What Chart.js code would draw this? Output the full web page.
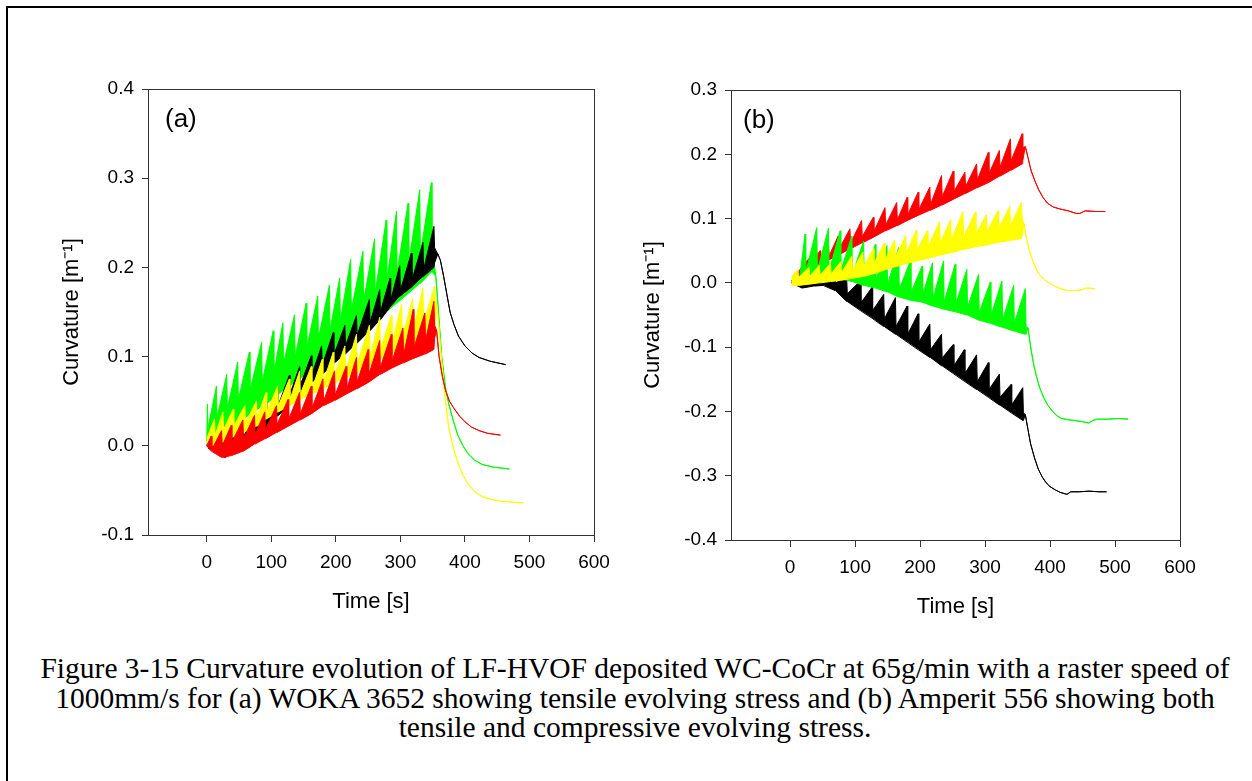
<!DOCTYPE html>
<html><head><meta charset="utf-8">
<script src="https://cdn.jsdelivr.net/npm/chart.js@4.4.1/dist/chart.umd.min.js"></script>
<style>
html,body{margin:0;padding:0;background:#fff;}
body{width:1252px;height:781px;position:relative;overflow:hidden;font-family:"Liberation Sans",Arial,sans-serif;}
#frame{position:absolute;left:6px;top:6px;right:-10px;bottom:-10px;border-top:2px solid #000;border-left:2px solid #000;}
canvas{position:absolute;top:0;}
#ca{left:0;} #cb{left:600px;}
.plabel{position:absolute;font-size:26px;line-height:26px;color:#000;}
#caption{position:absolute;left:0;width:1270px;top:654px;text-align:center;font-family:"Liberation Serif","Times New Roman",serif;font-size:29.5px;line-height:29.5px;color:#000;}
</style></head>
<body>
<div id="frame"></div>
<canvas id="ca" width="626" height="640"></canvas>
<canvas id="cb" width="626" height="640"></canvas>
<div class="plabel" style="left:165px;top:105px;">(a)</div>
<div class="plabel" style="left:743px;top:106px;">(b)</div>
<div id="caption">
<div>Figure 3-15 Curvature evolution of LF-HVOF deposited WC-CoCr at 65g/min with a raster speed of</div>
<div>1000mm/s for (a) WOKA 3652 showing tensile evolving stress and (b) Amperit 556 showing both</div>
<div>tensile and compressive evolving stress.</div>
</div>
<script>
// ---------- axis ticks ----------
const xTicks = [0, 100, 200, 300, 400, 500, 600];
const yTicksA = [-0.1, 0.0, 0.1, 0.2, 0.3, 0.4];
const yTicksB = [-0.4, -0.3, -0.2, -0.1, 0.0, 0.1, 0.2, 0.3];
const xLabel = 'Time [s]';
const yLabel = 'Curvature [m\u207B\u00B9]';

// ---------- panel (a): oscillating part (time, upper edge, lower edge) ----------
const aGreenT  = [0, 1,2, 15,16, 31,32, 48,49, 66,67, 85,86, 103,104, 118,119, 136,137, 154,155, 172,173, 190,191, 206,207, 223,224, 242,243, 260,261, 278,279, 294,295, 312,313, 330,331, 348,349];
const aGreenHi = [0.005, 0.047,0.020, 0.067,0.032, 0.080,0.042, 0.094,0.052, 0.105,0.062, 0.116,0.072, 0.129,0.082, 0.138,0.092, 0.147,0.100, 0.160,0.110, 0.168,0.120, 0.180,0.130, 0.188,0.140, 0.209,0.152, 0.218,0.162, 0.232,0.172, 0.253,0.185, 0.263,0.195, 0.272,0.205, 0.287,0.215, 0.295,0.225];
const aGreenLo = [0.004, 0.004,0.004, 0.010,0.010, 0.018,0.018, 0.026,0.026, 0.035,0.035, 0.044,0.044, 0.053,0.053, 0.062,0.062, 0.071,0.071, 0.081,0.081, 0.090,0.090, 0.100,0.100, 0.109,0.109, 0.118,0.118, 0.128,0.128, 0.139,0.139, 0.150,0.150, 0.160,0.160, 0.171,0.171, 0.182,0.182, 0.195,0.195];
const aGreenTailT = [355, 359, 364, 370, 375, 382, 389, 397, 405, 415, 427, 445, 469];
const aGreenTailV = [0.190, 0.150, 0.100, 0.065, 0.047, 0.028, 0.012, 0.000, -0.009, -0.016, -0.021, -0.024, -0.026];

const aBlackT  = [0, 2,3, 15,16, 28,29, 41,42, 56,57, 74,75, 92,93, 110,111, 128,129, 144,145, 162,163, 178,179, 196,197, 214,215, 232,233, 252,253, 268,269, 284,285, 299,300, 317,318, 335,336, 352,353];
const aBlackHi = [0.000, 0.005,-0.002, 0.012,0.000, 0.010,-0.004, 0.016,0.002, 0.024,0.010, 0.036,0.020, 0.050,0.032, 0.066,0.046, 0.079,0.058, 0.089,0.068, 0.101,0.080, 0.112,0.090, 0.127,0.102, 0.135,0.112, 0.146,0.124, 0.164,0.138, 0.175,0.150, 0.188,0.163, 0.202,0.174, 0.216,0.186, 0.228,0.198, 0.246,0.222];
const aBlackLo = [0.000, 0.000,-0.003, -0.007,-0.007, -0.013,-0.013, -0.007,-0.007, -0.003,-0.003, 0.006,0.006, 0.019,0.019, 0.034,0.034, 0.046,0.046, 0.060,0.060, 0.071,0.071, 0.080,0.080, 0.092,0.092, 0.103,0.103, 0.115,0.115, 0.129,0.129, 0.141,0.141, 0.156,0.156, 0.168,0.168, 0.178,0.178, 0.190,0.190, 0.200,0.205];
const aBlackTailT = [358, 362, 367, 372, 377, 383, 390, 400, 411, 422, 438, 463];
const aBlackTailV = [0.215, 0.208, 0.190, 0.170, 0.150, 0.136, 0.123, 0.112, 0.104, 0.099, 0.095, 0.091];

const aYellowT  = [0, 12,13, 25,26, 41,42, 59,60, 77,78, 92,93, 110,111, 128,129, 144,145, 162,163, 179,180, 196,197, 214,215, 232,233, 252,253, 268,269, 286,287, 302,303, 319,320, 335,336, 353,354];
const aYellowHi = [0.008, 0.030,0.012, 0.038,0.018, 0.041,0.022, 0.045,0.026, 0.050,0.032, 0.060,0.038, 0.067,0.045, 0.075,0.052, 0.084,0.058, 0.089,0.064, 0.097,0.070, 0.105,0.077, 0.112,0.083, 0.125,0.092, 0.135,0.100, 0.144,0.108, 0.146,0.114, 0.159,0.122, 0.165,0.130, 0.177,0.138, 0.179,0.165];
const aYellowLo = [0.000, 0.000,0.000, 0.004,0.004, 0.010,0.010, 0.016,0.016, 0.022,0.022, 0.030,0.030, 0.038,0.038, 0.045,0.045, 0.052,0.052, 0.058,0.058, 0.064,0.064, 0.070,0.070, 0.076,0.076, 0.082,0.082, 0.090,0.090, 0.097,0.097, 0.103,0.103, 0.109,0.109, 0.114,0.114, 0.120,0.120, 0.125,0.128];
const aYellowTailT = [356, 359, 362, 366, 370, 375, 382, 389, 397, 405, 416, 427, 440, 455, 470, 490];
const aYellowTailV = [0.160, 0.140, 0.110, 0.080, 0.050, 0.020, -0.002, -0.019, -0.033, -0.043, -0.052, -0.057, -0.060, -0.062, -0.063, -0.064];

const aRedT  = [0, 7,8, 23,24, 38,39, 56,57, 74,75, 90,91, 108,109, 126,127, 144,145, 162,163, 180,181, 198,199, 216,217, 232,233, 250,251, 268,269, 286,287, 304,305, 320,321, 338,339, 352,353];
const aRedHi = [0.000, 0.011,-0.004, 0.017,0.000, 0.023,0.004, 0.029,0.008, 0.034,0.013, 0.038,0.018, 0.045,0.024, 0.052,0.030, 0.060,0.036, 0.067,0.042, 0.075,0.050, 0.084,0.057, 0.089,0.064, 0.099,0.072, 0.108,0.080, 0.118,0.088, 0.125,0.095, 0.132,0.102, 0.153,0.110, 0.149,0.118, 0.162,0.135];
const aRedLo = [0.000, -0.006,-0.006, -0.013,-0.013, -0.011,-0.011, -0.006,-0.006, 0.002,0.002, 0.008,0.008, 0.015,0.015, 0.022,0.022, 0.029,0.029, 0.036,0.036, 0.045,0.045, 0.051,0.051, 0.058,0.058, 0.064,0.064, 0.071,0.071, 0.080,0.080, 0.087,0.087, 0.093,0.093, 0.098,0.098, 0.103,0.103, 0.108,0.120];
const aRedTailT = [356, 360, 365, 370, 376, 383, 392, 400, 410, 422, 435, 455];
const aRedTailV = [0.130, 0.100, 0.078, 0.062, 0.050, 0.042, 0.033, 0.027, 0.021, 0.017, 0.014, 0.012];

// ---------- panel (b) ----------
const bRedT  = [5, 18, 31,32, 46,47, 59,60, 74,75, 92,93, 110,111, 128,129, 146,147, 164,165, 180,181, 197,198, 215,216, 233,234, 251,252, 269,270, 287,288, 305,306, 322,323, 339,340, 357,358];
const bRedHi = [0.005, 0.025, 0.040,0.030, 0.050,0.036, 0.058,0.042, 0.073,0.052, 0.084,0.062, 0.097,0.072, 0.102,0.080, 0.117,0.090, 0.125,0.098, 0.133,0.106, 0.141,0.114, 0.149,0.122, 0.167,0.134, 0.174,0.142, 0.172,0.150, 0.185,0.160, 0.203,0.170, 0.206,0.180, 0.224,0.190, 0.232,0.210];
const bRedLo = [0.000, 0.015, 0.024,0.024, 0.030,0.030, 0.036,0.036, 0.043,0.043, 0.053,0.053, 0.062,0.062, 0.071,0.071, 0.081,0.081, 0.089,0.089, 0.097,0.097, 0.105,0.105, 0.113,0.113, 0.121,0.121, 0.130,0.130, 0.139,0.139, 0.148,0.148, 0.156,0.156, 0.166,0.166, 0.175,0.175, 0.185,0.190];
const bRedTailT = [362, 366, 371, 377, 382, 389, 396, 405, 415, 428, 440, 446, 454, 470, 485];
const bRedTailV = [0.212, 0.195, 0.174, 0.158, 0.146, 0.133, 0.124, 0.118, 0.115, 0.112, 0.108, 0.108, 0.112, 0.111, 0.111];

const bYellowT  = [2, 12,13, 29,30, 45,46, 62,63, 78,79, 95,96, 112,113, 128,129, 145,146, 161,162, 178,179, 194,195, 211,212, 230,231, 247,248, 266,267, 285,286, 302,303, 320,321, 338,339, 356,357];
const bYellowHi = [0.010, 0.020,0.008, 0.024,0.010, 0.027,0.012, 0.030,0.014, 0.033,0.016, 0.042,0.020, 0.048,0.025, 0.053,0.030, 0.062,0.036, 0.067,0.041, 0.073,0.046, 0.082,0.051, 0.081,0.056, 0.095,0.062, 0.098,0.067, 0.111,0.072, 0.110,0.076, 0.106,0.080, 0.112,0.084, 0.119,0.089, 0.125,0.100];
const bYellowLo = [-0.004, -0.004,-0.004, -0.002,-0.002, 0.000,0.000, 0.002,0.002, 0.004,0.004, 0.007,0.007, 0.010,0.010, 0.014,0.014, 0.020,0.020, 0.025,0.025, 0.030,0.030, 0.034,0.034, 0.038,0.038, 0.043,0.043, 0.047,0.047, 0.052,0.052, 0.056,0.056, 0.059,0.059, 0.063,0.063, 0.066,0.066, 0.069,0.072];
const bYellowTailT = [360, 364, 368, 372, 377, 383, 390, 398, 407, 416, 426, 438, 448, 456, 469];
const bYellowTailV = [0.092, 0.068, 0.051, 0.038, 0.025, 0.014, 0.006, 0.000, -0.005, -0.009, -0.012, -0.012, -0.011, -0.008, -0.009];

const bGreenT  = [15, 23,24, 41,42, 59,60, 77,78, 95,96, 113,114, 131,132, 149,150, 167,168, 185,186, 203,204, 219,220, 236,237, 254,255, 272,273, 290,291, 308,309, 326,327, 344,345, 362,363];
const bGreenHi = [0.010, 0.076,0.016, 0.086,0.019, 0.085,0.019, 0.081,0.019, 0.073,0.014, 0.065,0.008, 0.060,0.004, 0.058,-0.002, 0.055,-0.010, 0.034,-0.015, 0.026,-0.018, 0.031,-0.024, 0.034,-0.029, 0.029,-0.033, 0.021,-0.038, 0.013,-0.046, 0.001,-0.051, 0.003,-0.057, -0.004,-0.063, -0.009,-0.068];
const bGreenLo = [0.000, 0.004,0.004, 0.007,0.007, 0.007,0.007, 0.007,0.007, 0.002,0.002, -0.004,-0.004, -0.008,-0.008, -0.014,-0.014, -0.022,-0.022, -0.027,-0.027, -0.030,-0.030, -0.036,-0.036, -0.041,-0.041, -0.045,-0.045, -0.050,-0.050, -0.058,-0.058, -0.063,-0.063, -0.069,-0.069, -0.075,-0.075, -0.080,-0.080];
const bGreenTailT = [366, 371, 375, 379, 384, 390, 397, 404, 411, 418, 428, 437, 450, 459, 466, 473, 490, 505, 520];
const bGreenTailV = [-0.070, -0.105, -0.128, -0.145, -0.163, -0.178, -0.191, -0.200, -0.207, -0.211, -0.213, -0.214, -0.216, -0.218, -0.214, -0.212, -0.212, -0.211, -0.212];

const bBlackT  = [2, 18,19, 36,37, 51,52, 69,70, 87,88, 108,109, 126,127, 144,145, 162,163, 180,181, 197,198, 215,216, 233,234, 251,252, 268,269, 287,288, 305,306, 322,323, 340,341, 358,359];
const bBlackHi = [0.004, 0.004,0.000, 0.011,0.004, 0.014,0.006, 0.011,0.000, 0.008,-0.017, 0.003,-0.031, -0.007,-0.043, -0.018,-0.056, -0.023,-0.068, -0.036,-0.080, -0.048,-0.092, -0.064,-0.104, -0.080,-0.117, -0.096,-0.129, -0.104,-0.141, -0.112,-0.154, -0.124,-0.166, -0.142,-0.178, -0.158,-0.190, -0.163,-0.202];
const bBlackLo = [0.000, -0.008,-0.008, -0.005,-0.005, -0.004,-0.004, -0.012,-0.012, -0.029,-0.029, -0.043,-0.043, -0.055,-0.055, -0.068,-0.068, -0.080,-0.080, -0.092,-0.092, -0.104,-0.104, -0.116,-0.116, -0.129,-0.129, -0.141,-0.141, -0.153,-0.153, -0.166,-0.166, -0.178,-0.178, -0.190,-0.190, -0.202,-0.202, -0.214,-0.214];
const bBlackTailT = [362, 366, 370, 376, 382, 388, 394, 400, 408, 416, 426, 432, 445, 460, 475, 487];
const bBlackTailV = [-0.205, -0.228, -0.250, -0.272, -0.290, -0.302, -0.311, -0.317, -0.322, -0.326, -0.329, -0.325, -0.325, -0.324, -0.325, -0.325];

// ---------- colours ----------
const GREEN = '#00ff00', YELLOW = '#ffff00', RED = '#ff0000', BLACK = '#000000';
const AXIS = '#333333';

function band(T, Hi, Lo, tailT, tailV, color) {
  const tail = tailT.map((t, i) => ({x: t, y: tailV[i]}));
  const hi = T.map((t, i) => ({x: t, y: Hi[i]})).concat(tail);
  const lo = T.map((t, i) => ({x: t, y: Lo[i]})).concat(tail);
  return [
    {data: hi, borderColor: color, backgroundColor: color, borderWidth: 1, pointRadius: 0, fill: '+1', tension: 0},
    {data: lo, borderColor: color, backgroundColor: color, borderWidth: 1, pointRadius: 0, fill: false, tension: 0}
  ];
}

Chart.defaults.font.family = '"Liberation Sans", Arial, sans-serif';
Chart.defaults.color = '#000';

const framePlugin = {
  id: 'frame',
  afterDatasetsDraw(chart) {
    const {ctx, chartArea: a} = chart;
    ctx.save();
    ctx.strokeStyle = AXIS;
    ctx.lineWidth = 1;
    ctx.strokeRect(Math.round(a.left) + 0.5, Math.round(a.top) + 0.5, Math.round(a.right - a.left), Math.round(a.bottom - a.top));
    ctx.restore();
  }
};

function makeChart(id, datasets, yTicks, cfg) {
  return new Chart(document.getElementById(id), {
    type: 'line',
    data: {datasets},
    plugins: [framePlugin],
    options: {
      responsive: false, animation: false, devicePixelRatio: 1,
      layout: {padding: {top: cfg.top, right: cfg.right, left: 0, bottom: 0}},
      plugins: {legend: {display: false}, tooltip: {enabled: false}},
      scales: {
        x: {
          type: 'linear', min: -91, max: 600,
          afterBuildTicks: s => { s.ticks = xTicks.map(v => ({value: v})); },
          afterFit: s => { s.height = cfg.xh; },
          border: {display: false},
          grid: {display: true, drawOnChartArea: false, drawTicks: true, tickLength: 7, color: AXIS},
          ticks: {font: {size: 19}, padding: 9, maxRotation: 0, color: '#000'},
          title: {display: true, text: xLabel, font: {size: 22}, padding: {top: 0, bottom: cfg.xtp}, color: '#000'}
        },
        y: {
          type: 'linear', min: yTicks[0], max: yTicks[yTicks.length - 1],
          afterBuildTicks: s => { s.ticks = yTicks.map(v => ({value: v})); },
          afterFit: s => { s.width = cfg.yw; },
          border: {display: false},
          grid: {display: true, drawOnChartArea: false, drawTicks: true, tickLength: 6, color: AXIS},
          ticks: {font: {size: 19}, padding: 8, color: '#000', callback: v => v.toFixed(1)},
          title: {display: true, text: yLabel, font: {size: 22}, padding: {top: cfg.ytp, bottom: 0}, color: '#000'}
        }
      }
    }
  });
}

// listed top-most first (Chart.js paints dataset 0 last)
const dsA = [].concat(
  band(aRedT, aRedHi, aRedLo, aRedTailT, aRedTailV, RED),
  band(aYellowT, aYellowHi, aYellowLo, aYellowTailT, aYellowTailV, YELLOW),
  band(aBlackT, aBlackHi, aBlackLo, aBlackTailT, aBlackTailV, BLACK),
  band(aGreenT, aGreenHi, aGreenLo, aGreenTailT, aGreenTailV, GREEN)
);
const dsB = [].concat(
  band(bYellowT, bYellowHi, bYellowLo, bYellowTailT, bYellowTailV, YELLOW),
  band(bGreenT, bGreenHi, bGreenLo, bGreenTailT, bGreenTailV, GREEN),
  band(bRedT, bRedHi, bRedLo, bRedTailT, bRedTailV, RED),
  band(bBlackT, bBlackHi, bBlackLo, bBlackTailT, bBlackTailV, BLACK)
);

makeChart('ca', dsA, yTicksA, {top: 89, right: 32, yw: 148, xh: 105, ytp: 59, xtp: 25});
makeChart('cb', dsB, yTicksB, {top: 90, right: 46, yw: 131, xh: 100, ytp: 40, xtp: 20});
</script>
</body></html>
